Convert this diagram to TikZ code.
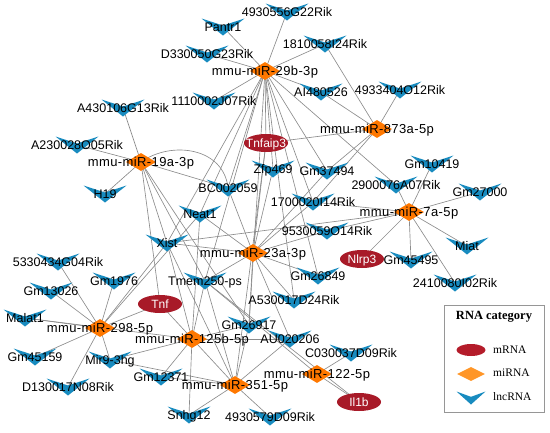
\documentclass[tikz,border=0pt]{standalone}
\usepackage{fontspec}
\setmainfont{Liberation Serif}
\newfontfamily\lblsans{Liberation Sans}
\newfontfamily\mirsans[LetterSpace=3]{Liberation Sans}
\usetikzlibrary{shapes.geometric,calc}
\definecolor{lncblue}{RGB}{24,139,191}
\definecolor{mirorange}{RGB}{255,120,0}
\definecolor{mrnared}{RGB}{168,26,40}
\definecolor{edgegray}{RGB}{140,140,140}
\definecolor{legred}{RGB}{180,28,42}
\definecolor{legorange}{RGB}{255,150,40}
\definecolor{legendgray}{RGB}{150,150,150}
\pgfdeclarelayer{bg}
\pgfdeclarelayer{fg}
\pgfsetlayers{bg,main,fg}
\tikzset{
  edge/.style={draw=edgegray, line width=0.65pt},
  chevron/.style={rectangle, inner sep=0pt,
    path picture={\fill[lncblue] (path picture bounding box.north west)
      -- ($(path picture bounding box.north)!0.41!(path picture bounding box.south)$)
      -- (path picture bounding box.north east)
      -- (path picture bounding box.south) -- cycle;}},
  lnc/.style={chevron, minimum width=43pt, minimum height=17pt},
  mir/.style={diamond, fill=mirorange, minimum width=30pt, minimum height=18pt, inner sep=0pt},
  mrna/.style={ellipse, fill=mrnared, minimum width=44pt, minimum height=18pt, inner sep=0pt},
  lnclbl/.style={font=\lblsans\fontsize{12.5}{14}\selectfont, inner sep=0pt, text height=9pt, text depth=0pt},
  mirlbl/.style={font=\mirsans\fontsize{13}{15}\selectfont, inner sep=0pt, text height=9.4pt, text depth=0pt},
  mrnalbl/.style={font=\lblsans\fontsize{12}{14}\selectfont, text=white, inner sep=0pt, text height=8.6pt, text depth=0pt},
  legtext/.style={font=\fontsize{11.5}{13}\selectfont, inner sep=0pt, anchor=west},
}
\newcommand\lncnode[4]{\node[lnc] (#1) at (#2,#3) {};
  \begin{pgfonlayer}{fg}\node[lnclbl] (#1-t) at (#1) {#4};\end{pgfonlayer}}
\newcommand\mirnode[4]{\node[mir] (#1) at (#2,#3) {};
  \begin{pgfonlayer}{fg}\node[mirlbl] (#1-t) at (#1) {#4};\end{pgfonlayer}}
\newcommand\mrnanode[4]{\node[mrna] (#1) at (#2,#3) {};
  \begin{pgfonlayer}{fg}\node[mrnalbl] (#1-t) at (#1) {#4};\end{pgfonlayer}}
\begin{document}
\begin{tikzpicture}[x=1pt,y=-1pt]
\useasboundingbox (0,0) rectangle (550,432);
% lncRNA nodes
\lncnode{l4930556}{287}{12}{4930556G22Rik}
\lncnode{pantr}{223}{27}{Pantr1}
\lncnode{d330050}{207}{54}{D330050G23Rik}
\lncnode{l1810058}{325}{44}{1810058I24Rik}
\lncnode{l1110002}{214}{101}{1110002J07Rik}
\lncnode{ai480526}{321}{92}{AI480526}
\lncnode{l4933404}{400}{90}{4933404O12Rik}
\lncnode{a430106}{123}{108}{A430106G13Rik}
\lncnode{a230028}{77}{145}{A230028O05Rik}
\lncnode{h19}{105}{194}{H19}
\lncnode{bc002059}{228}{188}{BC002059}
\lncnode{zfp469}{273}{169}{Zfp469}
\lncnode{gm37494}{327}{171}{Gm37494}
\lncnode{l2900076}{396}{185}{2900076A07Rik}
\lncnode{gm10419}{432}{164}{Gm10419}
\lncnode{gm27000}{480}{192}{Gm27000}
\lncnode{l1700020}{313}{202}{1700020I14Rik}
\lncnode{l9530059}{327}{231}{9530059O14Rik}
\lncnode{neat1}{200}{214}{Neat1}
\lncnode{xist}{167}{243}{Xist}
\lncnode{tmem250}{205}{281}{Tmem250-ps}
\lncnode{gm26849}{318}{276}{Gm26849}
\lncnode{miat}{467}{246}{Miat}
\lncnode{gm45495}{411}{260}{Gm45495}
\lncnode{l2410080}{455}{283}{2410080I02Rik}
\lncnode{l5330434}{58}{262}{5330434G04Rik}
\lncnode{gm1976}{114}{281}{Gm1976}
\lncnode{gm13026}{51}{291}{Gm13026}
\lncnode{malat1}{25}{318}{Malat1}
\lncnode{a530017}{294}{300}{A530017D24Rik}
\lncnode{gm26917}{249}{325}{Gm26917}
\lncnode{au020206}{290}{339}{AU020206}
\lncnode{c030037}{351}{353}{C030037D09Rik}
\lncnode{gm45159}{35}{357}{Gm45159}
\lncnode{mir9}{110}{360}{Mir9-3hg}
\lncnode{gm12371}{161}{377}{Gm12371}
\lncnode{d130017}{68}{387}{D130017N08Rik}
\lncnode{snhg12}{189}{415}{Snhg12}
\lncnode{l4930579}{270}{417}{4930579D09Rik}
% mRNA nodes
\mrnanode{tnfaip}{266}{143}{Tnfaip3}
\mrnanode{nlrp}{362}{259}{Nlrp3}
\mrnanode{tnf}{160}{304}{Tnf}
\mrnanode{ilb}{359}{402}{Il1b}
% miRNA nodes
\mirnode{m29b}{265}{71}{mmu-miR-29b-3p}
\mirnode{m873}{377}{129}{mmu-miR-873a-5p}
\mirnode{m19a}{141}{162}{mmu-miR-19a-3p}
\mirnode{m7a}{409}{212}{mmu-miR-7a-5p}
\mirnode{m23a}{253}{253}{mmu-miR-23a-3p}
\mirnode{m298}{100}{328}{mmu-miR-298-5p}
\mirnode{m125b}{192}{339}{mmu-miR-125b-5p}
\mirnode{m351}{235}{385}{mmu-miR-351-5p}
\mirnode{m122}{317}{374}{mmu-miR-122-5p}
% edges
\begin{pgfonlayer}{bg}
\foreach \a/\b in {m29b/l4930556, m29b/pantr, m29b/d330050, m29b/l1810058, m29b/l1110002,
  m29b/ai480526, m29b/tnfaip, m29b/zfp469, m29b/gm37494, m29b/l1700020, m29b/bc002059,
  m29b/xist, m29b/neat1, m29b/tmem250, m29b/l2900076, m29b/a530017, m29b/gm26849, m29b/gm26917,
  m873/l1810058, m873/ai480526, m873/l4933404, m873/tnfaip, m873/gm37494, m873/l1700020,
  m19a/a430106, m19a/a230028, m19a/h19, m19a/bc002059, m19a/xist, m19a/tmem250, m19a/gm26917, m19a/tnf,
  m7a/l2900076, m7a/gm10419, m7a/gm27000, m7a/miat, m7a/gm45495, m7a/l2410080, m7a/nlrp,
  m7a/xist, m7a/l9530059, m7a/l1700020,
  m23a/tnfaip, m23a/zfp469, m23a/bc002059, m23a/neat1, m23a/xist, m23a/gm37494, m23a/l1700020,
  m23a/l9530059, m23a/gm26849, m23a/a530017, m23a/gm26917, m23a/tmem250, m23a/au020206,
  m298/gm13026, m298/malat1, m298/gm45159, m298/d130017, m298/mir9, m298/l5330434, m298/gm1976,
  m298/tnf, m298/xist, m298/neat1,
  m125b/tmem250, m125b/xist, m125b/neat1, m125b/gm26917, m125b/au020206, m125b/mir9,
  m125b/gm12371, m125b/snhg12, m125b/malat1,
  m351/gm26917, m351/au020206, m351/snhg12, m351/l4930579, m351/gm12371, m351/mir9,
  m351/tmem250, m351/xist, m351/tnf, m351/tnfaip,
  m122/c030037, m122/ilb, m122/tmem250, tmem250/ilb}
  \draw[edge] (\a.center) -- (\b.center);
\draw[edge] (m19a.center) .. controls (172,140) and (224,148) .. (bc002059.center);
\end{pgfonlayer}
% legend
\node[draw=legendgray, line width=0.7pt, minimum width=100pt, minimum height=107pt, inner sep=0pt] (legbox) at (494,358.5) {};
\node[font=\bfseries\fontsize{12.5}{14}\selectfont, inner sep=0pt] (legtitle) at (494,317) {RNA category};
\node[ellipse, fill=legred, minimum width=29pt, minimum height=12pt, inner sep=0pt] (legm) at (471,350) {};
\node[diamond, fill=legorange, minimum width=28pt, minimum height=14pt, inner sep=0pt] (legmi) at (471,374) {};
\node[chevron, minimum width=29pt, minimum height=13pt] (leglnc) at (471,398) {};
\node[legtext] (legmt) at (493,350) {mRNA};
\node[legtext] (legmit) at (493,373) {miRNA};
\node[legtext] (leglnct) at (493,397) {lncRNA};
\end{tikzpicture}
\end{document}
